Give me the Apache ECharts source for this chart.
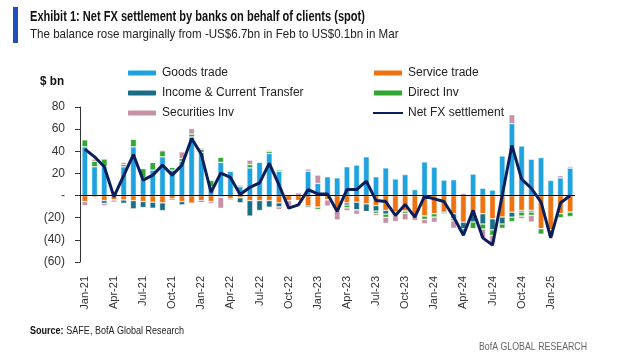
<!DOCTYPE html>
<html>
<head>
<meta charset="utf-8">
<script src="https://cdn.jsdelivr.net/npm/echarts@6/dist/echarts.min.js"></script>
<style>
html,body{margin:0;padding:0;background:#fff;}
#c{width:625px;height:362px;}
</style>
</head>
<body>
<div id="c"></div>
<script>
var months = ["Jan-21","Feb-21","Mar-21","Apr-21","May-21","Jun-21","Jul-21","Aug-21","Sep-21","Oct-21","Nov-21","Dec-21",
"Jan-22","Feb-22","Mar-22","Apr-22","May-22","Jun-22","Jul-22","Aug-22","Sep-22","Oct-22","Nov-22","Dec-22",
"Jan-23","Feb-23","Mar-23","Apr-23","May-23","Jun-23","Jul-23","Aug-23","Sep-23","Oct-23","Nov-23","Dec-23",
"Jan-24","Feb-24","Mar-24","Apr-24","May-24","Jun-24","Jul-24","Aug-24","Sep-24","Oct-24","Nov-24","Dec-24",
"Jan-25","Feb-25","Mar-25"];

var goodsTrade = [44,26,26,2,26,44,16,23,35,23,31,53,
39,8,30,22,8,25,30,38,22,0,0,22,
11,17,16,26,27.5,35,17,25,15,19,5.4,30.4,
25.7,14,14.3,0,19.4,6.6,5,35.8,65,44.8,32.8,34.3,
13.7,16,24.8];

var serviceTrade = [-5.5,-1.5,-4.5,-4,-4,-4.5,-5.4,-6,-6.6,-3,-5.4,-7,
-4.5,-5.4,-0.5,-3,-2,-4.5,-4.5,-4.5,-6.6,-4.5,-4.5,-9.5,
-10.5,-4,-14,-6.6,-6,-7.5,-9,-13.4,-15,-14,-18.5,-18.5,
-16.4,-15,-16.4,-24,-16.4,-16.4,-21,-19.4,-15,-13.4,-13.4,-30,
-31,-16.4,-15];

var incomeTransfer = [0,0,-2.5,0,-3,-7.5,-5.4,-5.4,-7,-1.2,-3,0,
-1.5,0,-1,-1,-4.5,-14,-9,-6,-3.6,0,0,-1.5,
0,0,0,-2,-7,-7,-5,-3.3,0,0,0,0,
0,-1,-4.5,-6,-7.5,-9.3,-10,-6.3,-4.5,-1.5,-1.5,0,
0,0,0];

var directInv = [6.3,5,7,0,2,7,8.4,7,5.4,2.5,2.5,2.5,
2.7,5.7,4.5,0.5,1.5,3,0.5,2,1.2,0,0,0,
-2,0,0,-2.5,0,0,-2,-3,-3,-2,0,-3,
-3,-1,-2,-2.5,-6,-4.5,-5,-4,-4,-3.6,-3,-5,
-6,-3.6,-4];

var securitiesInv = [-3.5,2,-2,-2,2,0,0,0,1,0,6,5,
1.2,-1.8,-10,0,0,4,0.5,1,-2.4,-5,2.5,2,
7.5,-5.5,-8,-2.5,-4,0,-2,-5.4,-5.4,-6,-4,-4,
-4.8,0,-6.6,2,0,-8,-6.6,0,8,-2.4,-6,0,
0,2,1.5];

var netFX = [42,35,26,-1,18,37,14,18.5,27.5,18.5,27.5,51.6,
37.3,3,20.3,16.4,1,7.5,11.4,29,9.6,-11.3,-8.4,5.4,
1.5,1.5,-14.3,5.4,5.4,13,-4.5,-5.4,-18,-8,-19.4,-0.6,
-3,-5.4,-19.4,-35.8,-13.4,-38.2,-44.8,0,45.4,14.9,6.6,-6,
-38.2,-6.7,0.1];

var FONT = "'Liberation Sans',sans-serif";
var chart = echarts.init(document.getElementById('c'), null, {renderer:'canvas'});

function barSeries(name, data, color, withZero){
  var s = {
    name: name, type: 'bar', stack: 'total', data: data,
    barWidth: '60%',
    itemStyle: {color: color, borderColor: '#ffffff', borderWidth: 0.5},
    emphasis: {disabled: true}
  };
  if (withZero) {
    s.markLine = {
      silent: true, symbol: ['none','none'], label: {show:false},
      lineStyle: {color:'#000', width:1, type:'solid'},
      data: [{yAxis: 0}], animation: false
    };
  }
  return s;
}

var legendText = {fontSize: 12, color: '#222', fontFamily: FONT, lineHeight: 14};

var option = {
  animation: false,
  textStyle: {fontFamily: FONT},
  grid: {left: 80, right: 50, top: 107, bottom: 100},
  legend: [
    {left: 126, top: 66, padding: 0, orient: 'vertical', itemWidth: 30, itemHeight: 7, itemGap: 6,
     textStyle: legendText,
     data: ['Goods trade','Income & Current Transfer','Securities Inv']},
    {left: 372, top: 66, padding: 0, orient: 'vertical', itemWidth: 30, itemHeight: 7, itemGap: 6,
     textStyle: legendText,
     data: ['Service trade','Direct Inv','Net FX settlement']}
  ],
  xAxis: {
    type: 'category', data: months,
    axisLine: {show: false}, axisTick: {show: false},
    axisLabel: {interval: 2, rotate: 90, fontSize: 11, color: '#333', margin: 14, fontFamily: FONT}
  },
  yAxis: {
    type: 'value', min: -60, max: 80, interval: 20,
    splitLine: {show: false},
    axisLine: {show: true, lineStyle: {color: '#333', width: 1}},
    axisTick: {show: true, length: 5, lineStyle: {color: '#333'}},
    axisLabel: {fontSize: 12, color: '#333', margin: 15, fontFamily: FONT,
      formatter: function(v){ if (v === 0) return '-'; if (v < 0) return '(' + (-v) + ')'; return String(v); }}
  },
  series: [
    barSeries('Goods trade', goodsTrade, '#1FA3E0', true),
    barSeries('Service trade', serviceTrade, '#EE7310', false),
    barSeries('Income & Current Transfer', incomeTransfer, '#186E84', false),
    barSeries('Direct Inv', directInv, '#33A532', false),
    barSeries('Securities Inv', securitiesInv, '#C690A6', false),
    {name: 'Net FX settlement', type: 'line', data: netFX, symbol: 'line', showSymbol: false,
     z: 5, lineStyle: {color: '#0B1E5B', width: 3}, itemStyle: {color: '#0B1E5B'},
     emphasis: {disabled: true}}
  ],
  graphic: [
    {type: 'rect', x: 13, y: 7, shape: {width: 5, height: 36}, style: {fill: '#1F4FBF'}},
    {type: 'text', x: 30, y: 10, scaleX: 0.79, style: {text: 'Exhibit 1: Net FX settlement by banks on behalf of clients (spot)', fontSize: 14, fontWeight: 'bold', fill: '#111', fontFamily: FONT}},
    {type: 'text', x: 30, y: 28, scaleX: 0.89, style: {text: 'The balance rose marginally from -US$6.7bn in Feb to US$0.1bn in Mar', fontSize: 13, fill: '#222', fontFamily: FONT}},
    {type: 'text', x: 40, y: 75, scaleX: 0.9, style: {text: '$ bn', fontSize: 13, fontWeight: 'bold', fill: '#111', fontFamily: FONT}},
    {type: 'text', x: 30, y: 325, scaleX: 0.82, style: {rich: {b: {fontWeight: 'bold', fontSize: 11, fill: '#111', fontFamily: FONT}, n: {fontSize: 11, fill: '#222', fontFamily: FONT}}, text: '{b|Source:} {n|SAFE, BofA Global Research}'}},
    {type: 'text', x: 479, y: 341, scaleX: 0.8, style: {text: 'BofA GLOBAL RESEARCH', fontSize: 11, fill: '#666', fontFamily: FONT}}
  ]
};
chart.setOption(option);
</script>
</body>
</html>
